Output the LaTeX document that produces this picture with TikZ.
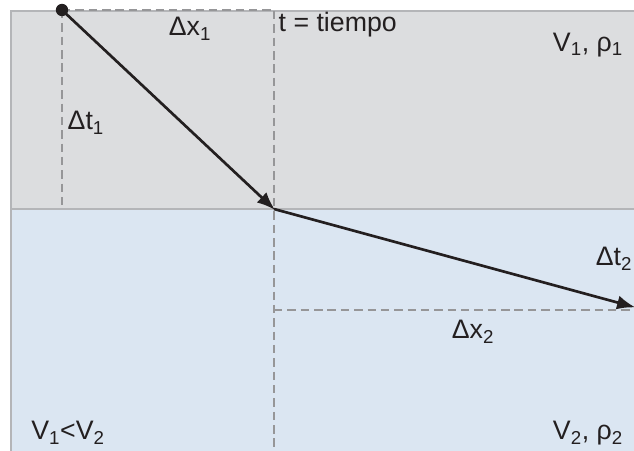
\documentclass[tikz,border=0pt]{standalone}
\usepackage{fontspec}
\setmainfont{Liberation Sans}
\usetikzlibrary{positioning,arrows.meta,calc}
\definecolor{layerup}{RGB}{220,221,223}
\definecolor{layerlow}{RGB}{219,230,242}
\definecolor{edgegray}{RGB}{180,181,184}
\definecolor{guidegray}{RGB}{150,150,152}
\definecolor{inkdark}{RGB}{35,31,32}

\begin{document}
\begin{tikzpicture}[
  x=0.025cm, y=-0.025cm,
  every node/.style={font=\fontsize{19}{22}\selectfont, text=inkdark, inner sep=1pt},
  guide/.style={draw=guidegray, line width=1.1pt, dash pattern=on 6pt off 3.5pt},
  ray/.style={draw=inkdark, line width=1.9pt, -{Latex[length=13pt,width=10pt]}, shorten >=-1pt}
]
  \useasboundingbox (0,0) rectangle (634,450);

  % layers
  \fill[layerup] (11,11) rectangle (640,209);
  \fill[layerlow] (11,209) rectangle (640,455);
  \draw[edgegray, line width=0.8pt] (640,11) -- (11,11) -- (11,455);
  \draw[edgegray, line width=1.3pt] (11,209) -- (640,209);

  \coordinate (src)  at (62,10);
  \coordinate (bend) at (274,209);
  \coordinate (exit) at (634,307);
  \coordinate (t1top) at (274,11);
  \coordinate (t1bot) at (62,209);
  \coordinate (xbot) at (274,455);
  \coordinate (x2l)  at (274,310);
  \coordinate (x2r)  at (640,310);

  % construction lines
  \draw[guide] (src) -- (t1top |- src);
  \draw[guide] (src) -- (t1bot);
  \draw[guide] (t1top) -- (xbot);
  \draw[guide] (x2l) -- (x2r);

  % ray path
  \draw[ray] (src) -- (bend);
  \draw[ray] (bend) -- (exit);
  \fill[inkdark] (src) circle (4.4pt);

  \node (dx1) at (190,29) {Δx\textsubscript{1}};
  \node[anchor=west] (dt1) at (66,123) {Δt\textsubscript{1}};
  \node[anchor=west] (time) at (277,25) {t = tiempo};
  \node (med1) at (588,45) {V\textsubscript{1}, ρ\textsubscript{1}};
  \node (dt2) at (614,259) {Δt\textsubscript{2}};
  \node (dx2) at (473,332) {Δx\textsubscript{2}};
  \node (cmp) at (68,433) {V\textsubscript{1}<V\textsubscript{2}};
  \node (med2) at (588,433) {V\textsubscript{2}, ρ\textsubscript{2}};
\end{tikzpicture}
\end{document}
